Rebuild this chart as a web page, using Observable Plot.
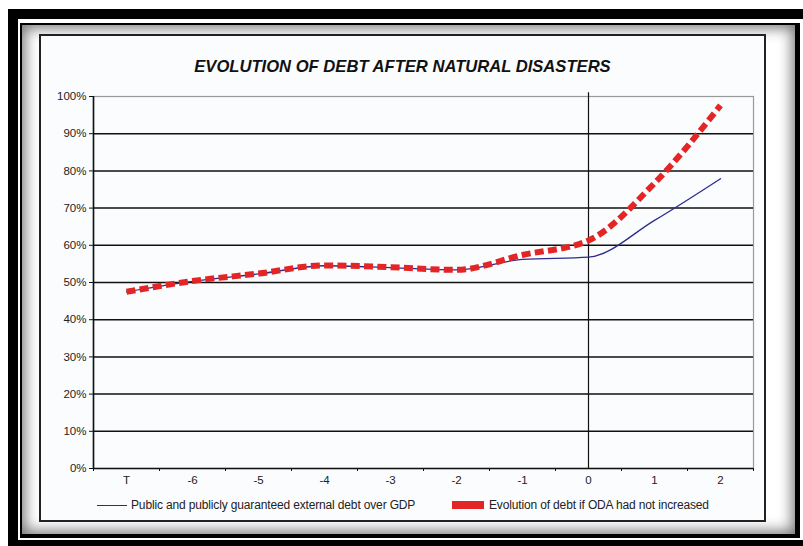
<!DOCTYPE html>
<html>
<head>
<meta charset="utf-8">
<script src="https://cdn.jsdelivr.net/npm/d3@7"></script>
<script src="https://cdn.jsdelivr.net/npm/@observablehq/plot@0.6"></script>
<style>
  html, body { margin: 0; padding: 0; background: #fff; }
  body { width: 803px; height: 546px; position: relative; overflow: hidden;
         font-family: "Liberation Sans Narrow", "Arial Narrow", "Liberation Sans", Arial, sans-serif; }
  #f1 { position: absolute; left: 8px; top: 9px; width: 800px; height: 545px;
        border-top: 10px solid #000; border-left: 10px solid #000; box-sizing: border-box; }
  #f2 { position: absolute; left: 20px; top: 23px; width: 780px; height: 515px; box-sizing: border-box;
        border-top: 2px solid #000; border-left: 2px solid #000; border-right: 5px solid #000; border-bottom: 4px solid #000;
        background: #fff; box-shadow: inset 0 0 14px 3px rgba(0,0,0,0.55); }
  #f3 { position: absolute; left: 8px; top: 540px; width: 800px; height: 6px; background: #000; }
  #chart { position: absolute; left: 39px; top: 34px; width: 723px; height: 484px;
           border: 2px solid #222; background: #fbfcfe; }
  #title { height: 44px; line-height: 62px; text-align: center; font-weight: bold; font-style: italic;
           font-size: 16.6px; color: #111; letter-spacing: 0px; }
  #legend { position: relative; height: 24px; font-size: 12px; color: #222; letter-spacing: -0.15px; }
  .li { position: absolute; top: 0; white-space: nowrap; display: flex; align-items: center; height: 18px; }
</style>
</head>
<body>
<div id="f1"></div>
<div id="f2"></div>
<div id="f3"></div>
<div id="chart">
  <div id="title">EVOLUTION OF DEBT AFTER NATURAL DISASTERS</div>
  <div id="plot"></div>
  <div id="legend">
    <div class="li" style="left:56px"><span style="display:inline-block;width:30px;height:0;border-top:1.5px solid #2b2d8a;margin-right:4px"></span>Public and publicly guaranteed external debt over GDP</div>
    <div class="li" style="left:411px"><span style="display:inline-block;width:32px;height:8px;background:#e42525;margin-right:5px"></span>Evolution of debt if ODA had not increased</div>
  </div>
</div>
<script>
const categories = ["T", "-6", "-5", "-4", "-3", "-2", "-1", "0", "1", "2"];
const publicDebt = [47.5, 50.3, 52.3, 54.5, 54.0, 53.4, 56.2, 56.8, 66.7, 77.9];
const debtNoODA  = [47.5, 50.4, 52.4, 54.6, 54.1, 53.4, 57.4, 61.3, 76.7, 97.6];
const yTicks = [0, 10, 20, 30, 40, 50, 60, 70, 80, 90, 100];

const pubData = categories.map((c, i) => ({i, c, v: publicDebt[i]}));
const odaData = categories.map((c, i) => ({i, c, v: debtNoODA[i]}));
const idx = d3.range(categories.length);
const bounds = d3.range(categories.length + 1).map(k => k - 0.5);
const zeroIdx = categories.indexOf("0");

const chart = Plot.plot({
  width: 723,
  height: 416,
  marginLeft: 52,
  marginRight: 11,
  marginTop: 16,
  marginBottom: 28,
  style: {fontFamily: '"Liberation Sans Narrow", "Arial Narrow", "Liberation Sans", Arial, sans-serif', fontSize: "11.5px", color: "#222", background: "transparent", overflow: "visible"},
  x: {type: "linear", domain: [-0.5, categories.length - 0.5], label: null},
  y: {domain: [0, 100], label: null},
  marks: [
    Plot.frame({stroke: "#999", strokeWidth: 1.2}),
    Plot.ruleY(yTicks.filter(t => t > 0 && t < 100), {stroke: "#111", strokeWidth: 1.5}),
    Plot.ruleY([0], {stroke: "#111", strokeWidth: 1.6}),
    Plot.ruleX([-0.5], {stroke: "#111", strokeWidth: 1.6}),
    Plot.ruleX([zeroIdx], {y1: 0, y2: 101, stroke: "#111", strokeWidth: 1.2}),
    Plot.axisY({ticks: yTicks, tickFormat: d => d + "%", tickSize: 4, tickPadding: 3, stroke: "#111", label: null}),
    Plot.axisX({ticks: bounds, tickFormat: () => "", tickSize: 3, stroke: "#111", label: null}),
    Plot.axisX({ticks: idx, tickFormat: i => categories[i], tickSize: 0, tickPadding: 7, label: null}),
    Plot.line(pubData, {x: "i", y: "v", stroke: "#2b2d8a", strokeWidth: 1.3, curve: "monotone-x"}),
    Plot.line(odaData, {x: "i", y: "v", stroke: "#e42525", strokeWidth: 6, strokeDasharray: "9,4.3", strokeLinecap: "butt", curve: "monotone-x"})
  ]
});
document.getElementById("plot").appendChild(chart);
</script>
</body>
</html>
